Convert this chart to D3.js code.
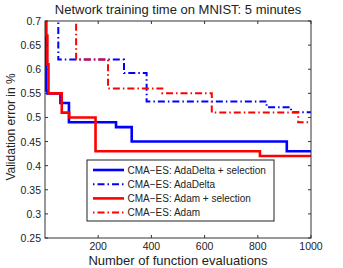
<!DOCTYPE html>
<html><head><meta charset="utf-8">
<script src="https://cdn.jsdelivr.net/npm/d3@7"></script>
<style>body{margin:0;background:#fff}svg{display:block}text{font-family:"Liberation Sans",Arial,sans-serif;fill:#222}</style>
</head><body>
<svg id="c" width="343" height="268"></svg>
<script>
const title = "Network training time on MNIST: 5 minutes";
const xLabel = "Number of function evaluations";
const yLabel = "Validation error in %";
const xTicks = [200, 400, 600, 800, 1000];
const yTicks = [0.25, 0.3, 0.35, 0.4, 0.45, 0.5, 0.55, 0.6, 0.65, 0.7];
const seriesNames = ["CMA\u2212ES: AdaDelta + selection", "CMA\u2212ES: AdaDelta", "CMA\u2212ES: Adam + selection", "CMA\u2212ES: Adam"];
const seriesColors = ["#0000ff", "#0000ff", "#ff0000", "#ff0000"];
const seriesDashed = [false, true, false, true];
// step series: [evaluation, value] – value holds until next point
const adaDeltaSel = [[0,0.75],[4,0.556],[9,0.55],[58,0.53],[90,0.49],[267,0.48],[326,0.45],[909,0.43],[1000,0.43]];
const adaDelta    = [[0,0.75],[50,0.62],[297,0.592],[382,0.533],[833,0.521],[925,0.511],[1000,0.511]];
const adamSel     = [[0,0.7],[4,0.67],[9,0.61],[13,0.55],[63,0.51],[91,0.50],[190,0.43],[808,0.42],[1000,0.42]];
const adam        = [[0,0.75],[117,0.62],[237,0.56],[441,0.55],[627,0.51],[952,0.49],[1000,0.49]];
const seriesData = [adaDeltaSel, adaDelta, adamSel, adam];

const svg = d3.select("#c");
const L = 45, R = 311, T = 21, B = 238;
const x = d3.scaleLinear().domain([0, 1000]).range([L, R]);
const y = d3.scaleLinear().domain([0.25, 0.7]).range([B, T]);

svg.append("defs").append("clipPath").attr("id", "clip")
  .append("rect").attr("x", L).attr("y", T).attr("width", R - L).attr("height", B - T);

const line = d3.line().x(d => x(d[0])).y(d => y(d[1])).curve(d3.curveStepAfter);
const dash = "7,3,1.5,3";
const g = svg.append("g").attr("clip-path", "url(#clip)");
[1, 3, 0, 2].forEach(i => {
  g.append("path").datum(seriesData[i]).attr("d", line)
    .attr("fill", "none").attr("stroke", seriesColors[i])
    .attr("stroke-width", seriesDashed[i] ? 2 : 2.6)
    .attr("stroke-dasharray", seriesDashed[i] ? dash : null);
});

const ax = svg.append("g");
ax.append("rect").attr("x", L).attr("y", T).attr("width", R - L).attr("height", B - T)
  .attr("fill", "none").attr("stroke", "#333").attr("stroke-width", 1);
const tl = 3;
xTicks.forEach(t => {
  ax.append("line").attr("x1", x(t)).attr("x2", x(t)).attr("y1", B).attr("y2", B - tl).attr("stroke", "#333");
  ax.append("line").attr("x1", x(t)).attr("x2", x(t)).attr("y1", T).attr("y2", T + tl).attr("stroke", "#333");
  ax.append("text").attr("x", x(t)).attr("y", 250).attr("text-anchor", "middle")
    .attr("font-size", 10.5).text(d3.format("d")(t));
});
yTicks.forEach(t => {
  ax.append("line").attr("x1", L).attr("x2", L + tl).attr("y1", y(t)).attr("y2", y(t)).attr("stroke", "#333");
  ax.append("line").attr("x1", R).attr("x2", R - tl).attr("y1", y(t)).attr("y2", y(t)).attr("stroke", "#333");
  ax.append("text").attr("x", 41).attr("y", y(t) + 4).attr("text-anchor", "end")
    .attr("font-size", 10.5).text(d3.format("~g")(t));
});

svg.append("text").attr("x", 178).attr("y", 14).attr("text-anchor", "middle").attr("font-size", 13).text(title);
svg.append("text").attr("x", 178).attr("y", 265).attr("text-anchor", "middle").attr("font-size", 13).text(xLabel);
svg.append("text").attr("transform", "translate(15,127) rotate(-90)").attr("text-anchor", "middle").attr("font-size", 12).text(yLabel);

const lg = svg.append("g");
lg.append("rect").attr("x", 87).attr("y", 160).attr("width", 187).attr("height", 61)
  .attr("fill", "#fff").attr("stroke", "#222").attr("stroke-width", 1);
seriesNames.forEach((n, i) => {
  const yy = 170 + i * 14.2;
  lg.append("line").attr("x1", 93).attr("x2", 124).attr("y1", yy).attr("y2", yy)
    .attr("stroke", seriesColors[i]).attr("stroke-width", seriesDashed[i] ? 2 : 2.6)
    .attr("stroke-dasharray", seriesDashed[i] ? "1.5,3,7,3" : null);
  lg.append("text").attr("x", 127.5).attr("y", yy + 3.6).attr("font-size", 10).text(n);
});
</script>
</body></html>
